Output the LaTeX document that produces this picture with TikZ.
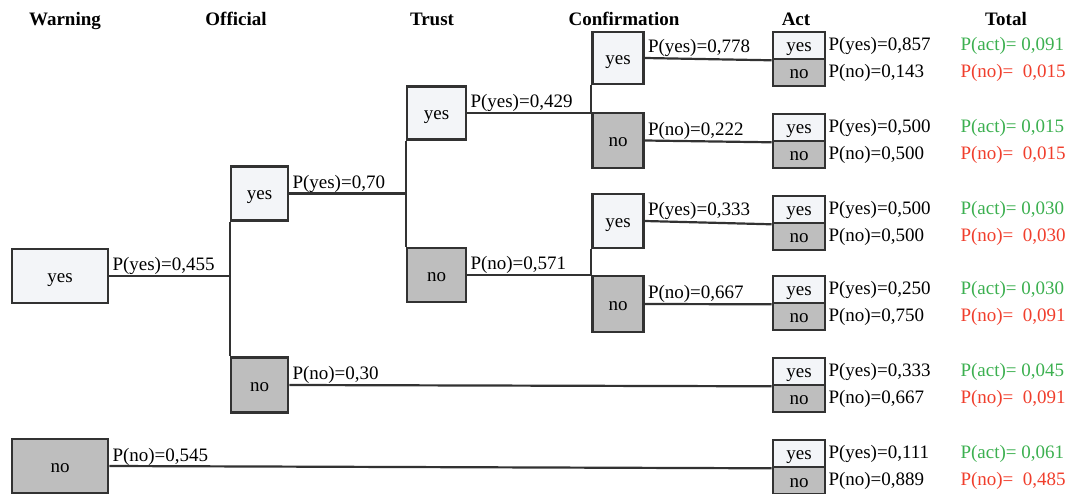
\documentclass[tikz,border=0pt]{standalone}
\usepackage{fontspec}
\setmainfont{Liberation Serif}
\definecolor{lightbox}{RGB}{243,245,248}
\definecolor{darkbox}{RGB}{190,190,190}
\definecolor{edge}{RGB}{50,50,50}
\definecolor{actgreen}{RGB}{60,176,80}
\definecolor{nored}{RGB}{240,62,44}
\begin{document}
\begin{tikzpicture}[x=1pt,y=-1pt,
  every node/.style={font=\fontsize{19}{22}\selectfont, inner sep=0pt},
  box/.style={draw=edge, line width=2.6pt, minimum width=#1, anchor=center, text height=13pt, text depth=0pt},
  ybox/.style={box=#1, fill=lightbox},
  nbox/.style={box=#1, fill=darkbox},
  conn/.style={draw=edge, line width=2.2pt},
  plab/.style={anchor=base west, text=black},
  alab/.style={anchor=west},
  hdr/.style={anchor=base, font=\fontsize{19}{22}\selectfont\bfseries},
  tg/.style={anchor=west, text=actgreen},
  tr/.style={anchor=west, text=nored}]
\useasboundingbox (0,0) rectangle (1069,494);
% headers
\node[hdr] (h1) at (65,26) {Warning};
\node[hdr] (h2) at (236,26) {Official};
\node[hdr] (h3) at (432,26) {Trust};
\node[hdr] (h4) at (624,26) {Confirmation};
\node[hdr] (h5) at (796,26) {Act};
\node[hdr] (h6) at (1006,26) {Total};
% warning
\node[ybox=96pt, minimum height=54pt] (wy) at (60,276) {yes};
\node[nbox=96pt, minimum height=54pt] (wn) at (60,466) {no};
% official
\node[ybox=57pt, minimum height=54pt] (oy) at (259.5,193.5) {yes};
\node[nbox=57pt, minimum height=55pt] (on) at (259.5,385) {no};
% trust
\node[ybox=59pt, minimum height=53pt] (ty) at (436.5,113) {yes};
\node[nbox=59pt, minimum height=54pt] (tn) at (436.5,275) {no};
% confirmation
\node[ybox=51pt, minimum height=52pt] (c1y) at (618,58) {yes};
\node[nbox=51pt, minimum height=55pt] (c1n) at (618,140.5) {no};
\node[ybox=51pt, minimum height=54pt] (c2y) at (618,221) {yes};
\node[nbox=51pt, minimum height=56pt] (c2n) at (618,304) {no};
% act boxes
\foreach \i/\j in {1/59,2/141,3/223,4/303,5/385,6/467}{
  \node[ybox=52pt, minimum height=27pt] (a\i y) at (799,\j-13.5) {yes};
  \node[nbox=52pt, minimum height=27pt] (a\i n) at (799,\j+13.5) {no};
}
% connectors
\draw[conn] (wy.east) -- (wy.east -| oy.west);
\draw[conn] (oy.south west) -- (on.north west);
\draw[conn] (oy.east) -- (oy.east -| ty.west);
\draw[conn] (ty.south west) -- (tn.north west);
\draw[conn] (ty.east) -- (ty.east -| c1y.west);
\draw[conn] (c1y.south west) -- (c1n.north west);
\draw[conn] (tn.east) -- (tn.east -| c2y.west);
\draw[conn] (c2y.south west) -- (c2n.north west);
\draw[conn] (c1y.east) -- (a1y.south west);
\draw[conn] (c1n.east) -- (a2y.south west);
\draw[conn] (c2y.east) -- (a3y.south west);
\draw[conn] (c2n.east) -- (a4y.south west);
\draw[conn] (on.east) -- (a5y.south west);
\draw[conn] (wn.east) -- (a6y.south west);
% branch labels
\node[plab] (lwy) at ([xshift=3pt,yshift=5pt]wy.east) {P(yes)=0,455};
\node[plab] (lwn) at ([xshift=3pt,yshift=5pt]wn.east) {P(no)=0,545};
\node[plab] (loy) at ([xshift=3pt,yshift=5pt]oy.east) {P(yes)=0,70};
\node[plab] (lon) at ([xshift=3pt,yshift=5pt]on.east) {P(no)=0,30};
\node[plab] (lty) at ([xshift=3pt,yshift=5pt]ty.east) {P(yes)=0,429};
\node[plab] (ltn) at ([xshift=3pt,yshift=5pt]tn.east) {P(no)=0,571};
\node[plab] (lc1y) at ([xshift=3pt,yshift=5pt]c1y.east) {P(yes)=0,778};
\node[plab] (lc1n) at ([xshift=3pt,yshift=5pt]c1n.east) {P(no)=0,222};
\node[plab] (lc2y) at ([xshift=3pt,yshift=5pt]c2y.east) {P(yes)=0,333};
\node[plab] (lc2n) at ([xshift=3pt,yshift=5pt]c2n.east) {P(no)=0,667};
% act labels and totals
\foreach \i/\py/\pn/\ta/\tno in {1/{0,857}/{0,143}/{0,091}/{0,015}, 2/{0,500}/{0,500}/{0,015}/{0,015}, 3/{0,500}/{0,500}/{0,030}/{0,030}, 4/{0,250}/{0,750}/{0,030}/{0,091}, 5/{0,333}/{0,667}/{0,045}/{0,091}, 6/{0,111}/{0,889}/{0,061}/{0,485}}{
  \node[alab] (ly\i) at ([xshift=2pt]a\i y.east) {P(yes)=\py};
  \node[alab] (ln\i) at ([xshift=2pt]a\i n.east) {P(no)=\pn};
  \node[tg] (ta\i) at ([xshift=134pt]a\i y.east) {P(act)= \ta};
  \node[tr] (tn\i) at ([xshift=134pt]a\i n.east) {P(no)=\ \ \tno};
}
\end{tikzpicture}
\end{document}
